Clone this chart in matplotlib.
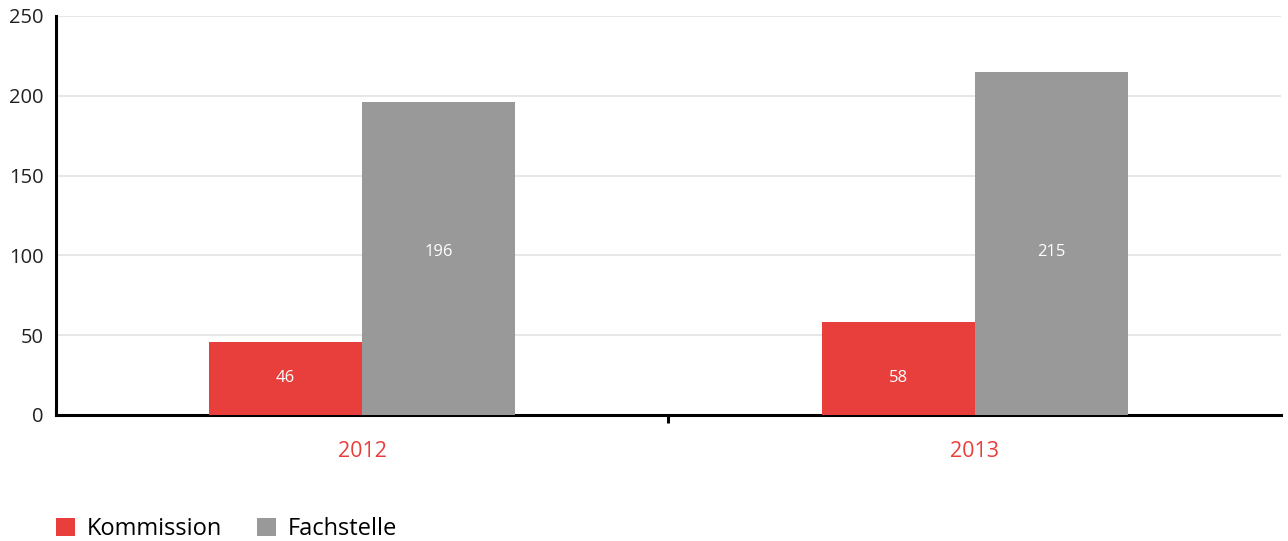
import matplotlib.pyplot as plt
import numpy as np

plt.rcParams['font.family'] = ['Open Sans', 'DejaVu Sans']

years = ['2012', '2013']
kommission = [46, 58]
fachstelle = [196, 215]
series_names = ['Kommission', 'Fachstelle']

red = '#e83e3c'
grey = '#999999'

fig = plt.figure(figsize=(12.88, 5.41), dpi=100)
ax = fig.add_axes([0.0435, 0.233, 0.951, 0.7375])

x = np.arange(len(years))
w = 0.25
b1 = ax.bar(x - w / 2, kommission, w, color=red, label=series_names[0], zorder=3)
b2 = ax.bar(x + w / 2, fachstelle, w, color=grey, label=series_names[1], zorder=3)

# Wertbeschriftungen in den Balken, jede Reihe auf gleicher Höhe
for xi, v in zip(x, kommission):
    ax.text(xi - w / 2, 23, str(v), ha='center', va='center',
            color='white', fontsize=12, zorder=4)
for xi, v in zip(x, fachstelle):
    ax.text(xi + w / 2, 102, str(v), ha='center', va='center',
            color='white', fontsize=12, zorder=4)

ax.set_xlim(-0.5, 1.5)
ax.set_ylim(0, 250)
ax.set_yticks([0, 50, 100, 150, 200, 250])
ax.yaxis.grid(True, color='#e0e0e0', linewidth=1.1, zorder=0)
ax.set_axisbelow(True)

ax.set_xticks(x)
ax.set_xticklabels(years, color=red, fontsize=15.5)
ax.tick_params(axis='x', length=0, pad=19)
ax.set_xticks([0.5], minor=True)
ax.tick_params(axis='x', which='minor', length=6, width=2.2, color='black')
ax.tick_params(axis='y', length=0, pad=9, labelsize=14.5, labelcolor='#222222')

for s in ['top', 'right']:
    ax.spines[s].set_visible(False)
for s in ['left', 'bottom']:
    ax.spines[s].set_linewidth(2.2)
    ax.spines[s].set_color('black')

leg = fig.legend(handles=[b1, b2], labels=series_names, loc='lower left',
                 bbox_to_anchor=(0.027, -0.04), ncol=2, frameon=False,
                 fontsize=17, handlelength=0.8, handleheight=0.8,
                 handletextpad=0.5, columnspacing=1.5)

fig.savefig('out.png', dpi=100)
